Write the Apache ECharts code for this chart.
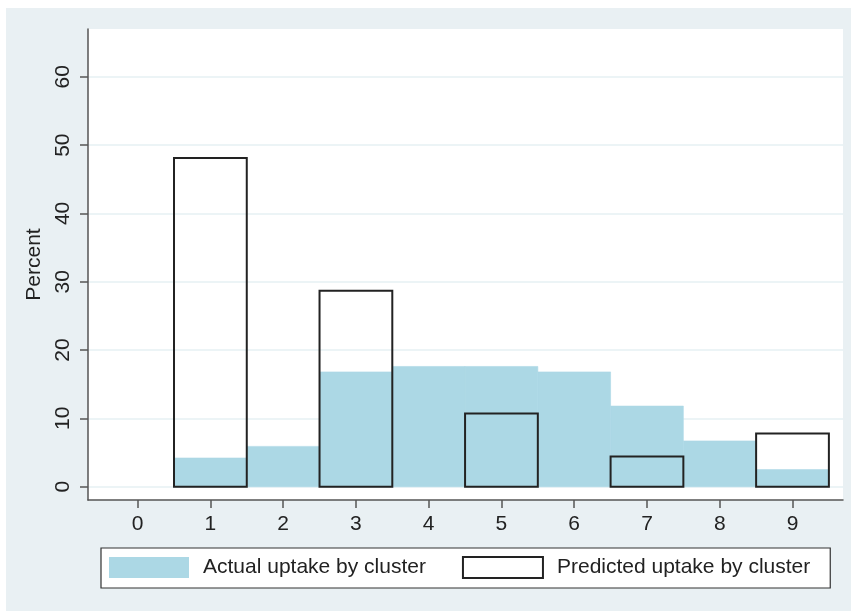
<!DOCTYPE html>
<html lang="en">
<head>
    <meta charset="UTF-8">
    <title>Uptake by cluster</title>
    <script src="https://cdn.jsdelivr.net/npm/echarts@6/dist/echarts.min.js"></script>
    <style>
        html, body { margin: 0; padding: 0; background: #ffffff; }
    </style>
</head>
<body>
    <div id="chart" style="width:851px;height:611px;"></div>

    <script>
        // data (percent per cluster)
        var clusters = [0, 1, 2, 3, 4, 5, 6, 7, 8, 9];
        var actualUptake = [0, 4.2, 5.9, 16.8, 17.6, 17.6, 16.8, 11.8, 6.7, 2.5];
        var predictedUptake = [0, 48.1, 0, 28.7, 0, 10.7, 0, 4.4, 0, 7.8];
        var yTicks = [0, 10, 20, 30, 40, 50, 60];

        var font = "'Liberation Sans', Arial, sans-serif";

        function pairs(values) {
            return clusters.map(function (c, i) { return [c, values[i]]; });
        }

        // one bar per cluster, one unit wide, drawn through the axes
        function barRenderer(styleExtra) {
            return function (params, api) {
                var x = api.value(0);
                var y = api.value(1);
                if (!y) return null;
                var topLeft = api.coord([x - 0.5, y]);
                var bottomRight = api.coord([x + 0.5, 0]);
                return {
                    type: 'rect',
                    shape: {
                        x: topLeft[0],
                        y: topLeft[1],
                        width: bottomRight[0] - topLeft[0],
                        height: bottomRight[1] - topLeft[1]
                    },
                    style: api.style(styleExtra)
                };
            };
        }

        var chart = echarts.init(document.getElementById('chart'));

        var option = {
            backgroundColor: '#ffffff',
            animation: false,
            textStyle: { fontFamily: font },
            graphic: [{
                type: 'rect',
                z: -10,
                silent: true,
                shape: { x: 6, y: 8, width: 845, height: 603 },
                style: { fill: '#e9f0f3' }
            }],
            grid: {
                left: 88,
                right: 8,
                top: 29,
                bottom: 111,
                show: true,
                backgroundColor: '#ffffff',
                borderWidth: 0
            },
            legend: {
                left: 101,
                top: 548,
                padding: [8, 20, 9, 8],
                itemGap: 36,
                itemWidth: 80,
                itemHeight: 21,
                backgroundColor: '#ffffff',
                borderColor: '#333333',
                borderWidth: 1.2,
                borderRadius: 0,
                textStyle: { fontSize: 21, color: '#222222', fontFamily: font, padding: [0, 0, 0, 9] },
                data: [
                    { name: 'Actual uptake by cluster', icon: 'rect',
                      itemStyle: { color: '#acd8e5', borderWidth: 0 } },
                    { name: 'Predicted uptake by cluster', icon: 'rect',
                      itemStyle: { color: '#ffffff', borderColor: '#222222', borderWidth: 2 } }
                ]
            },
            xAxis: {
                type: 'value',
                min: -0.682,
                max: 9.694,
                axisLine: { show: true, onZero: false, lineStyle: { color: '#555555', width: 1.5 } },
                axisTick: { show: true, length: 8, customValues: clusters, lineStyle: { color: '#555555', width: 1.5 } },
                axisLabel: { customValues: clusters, margin: 14, fontSize: 21, color: '#222222', fontFamily: font },
                splitLine: { show: false }
            },
            yAxis: {
                type: 'value',
                min: -1.95,
                max: 67,
                name: 'Percent',
                nameLocation: 'middle',
                nameRotate: 90,
                nameGap: 38,
                nameTextStyle: { fontSize: 21, color: '#222222', fontFamily: font },
                axisLine: { show: true, onZero: false, lineStyle: { color: '#555555', width: 1.5 } },
                axisTick: { show: true, length: 8, customValues: yTicks, lineStyle: { color: '#555555', width: 1.5 } },
                axisLabel: { customValues: yTicks, rotate: 90, margin: 14, fontSize: 21, color: '#222222', fontFamily: font },
                splitLine: { show: true, lineStyle: { color: '#e6f0f3', width: 1.5 } }
            },
            series: [
                {
                    name: 'Actual uptake by cluster',
                    type: 'custom',
                    renderItem: barRenderer({ stroke: '#acd8e5', lineWidth: 0.6 }),
                    itemStyle: { color: '#acd8e5' },
                    encode: { x: 0, y: 1 },
                    data: pairs(actualUptake),
                    z: 2
                },
                {
                    name: 'Predicted uptake by cluster',
                    type: 'custom',
                    renderItem: barRenderer({ fill: 'none', stroke: '#222222', lineWidth: 2 }),
                    itemStyle: { color: '#ffffff', borderColor: '#222222', borderWidth: 2 },
                    encode: { x: 0, y: 1 },
                    data: pairs(predictedUptake),
                    z: 3
                }
            ]
        };

        chart.setOption(option);
    </script>
</body>
</html>
